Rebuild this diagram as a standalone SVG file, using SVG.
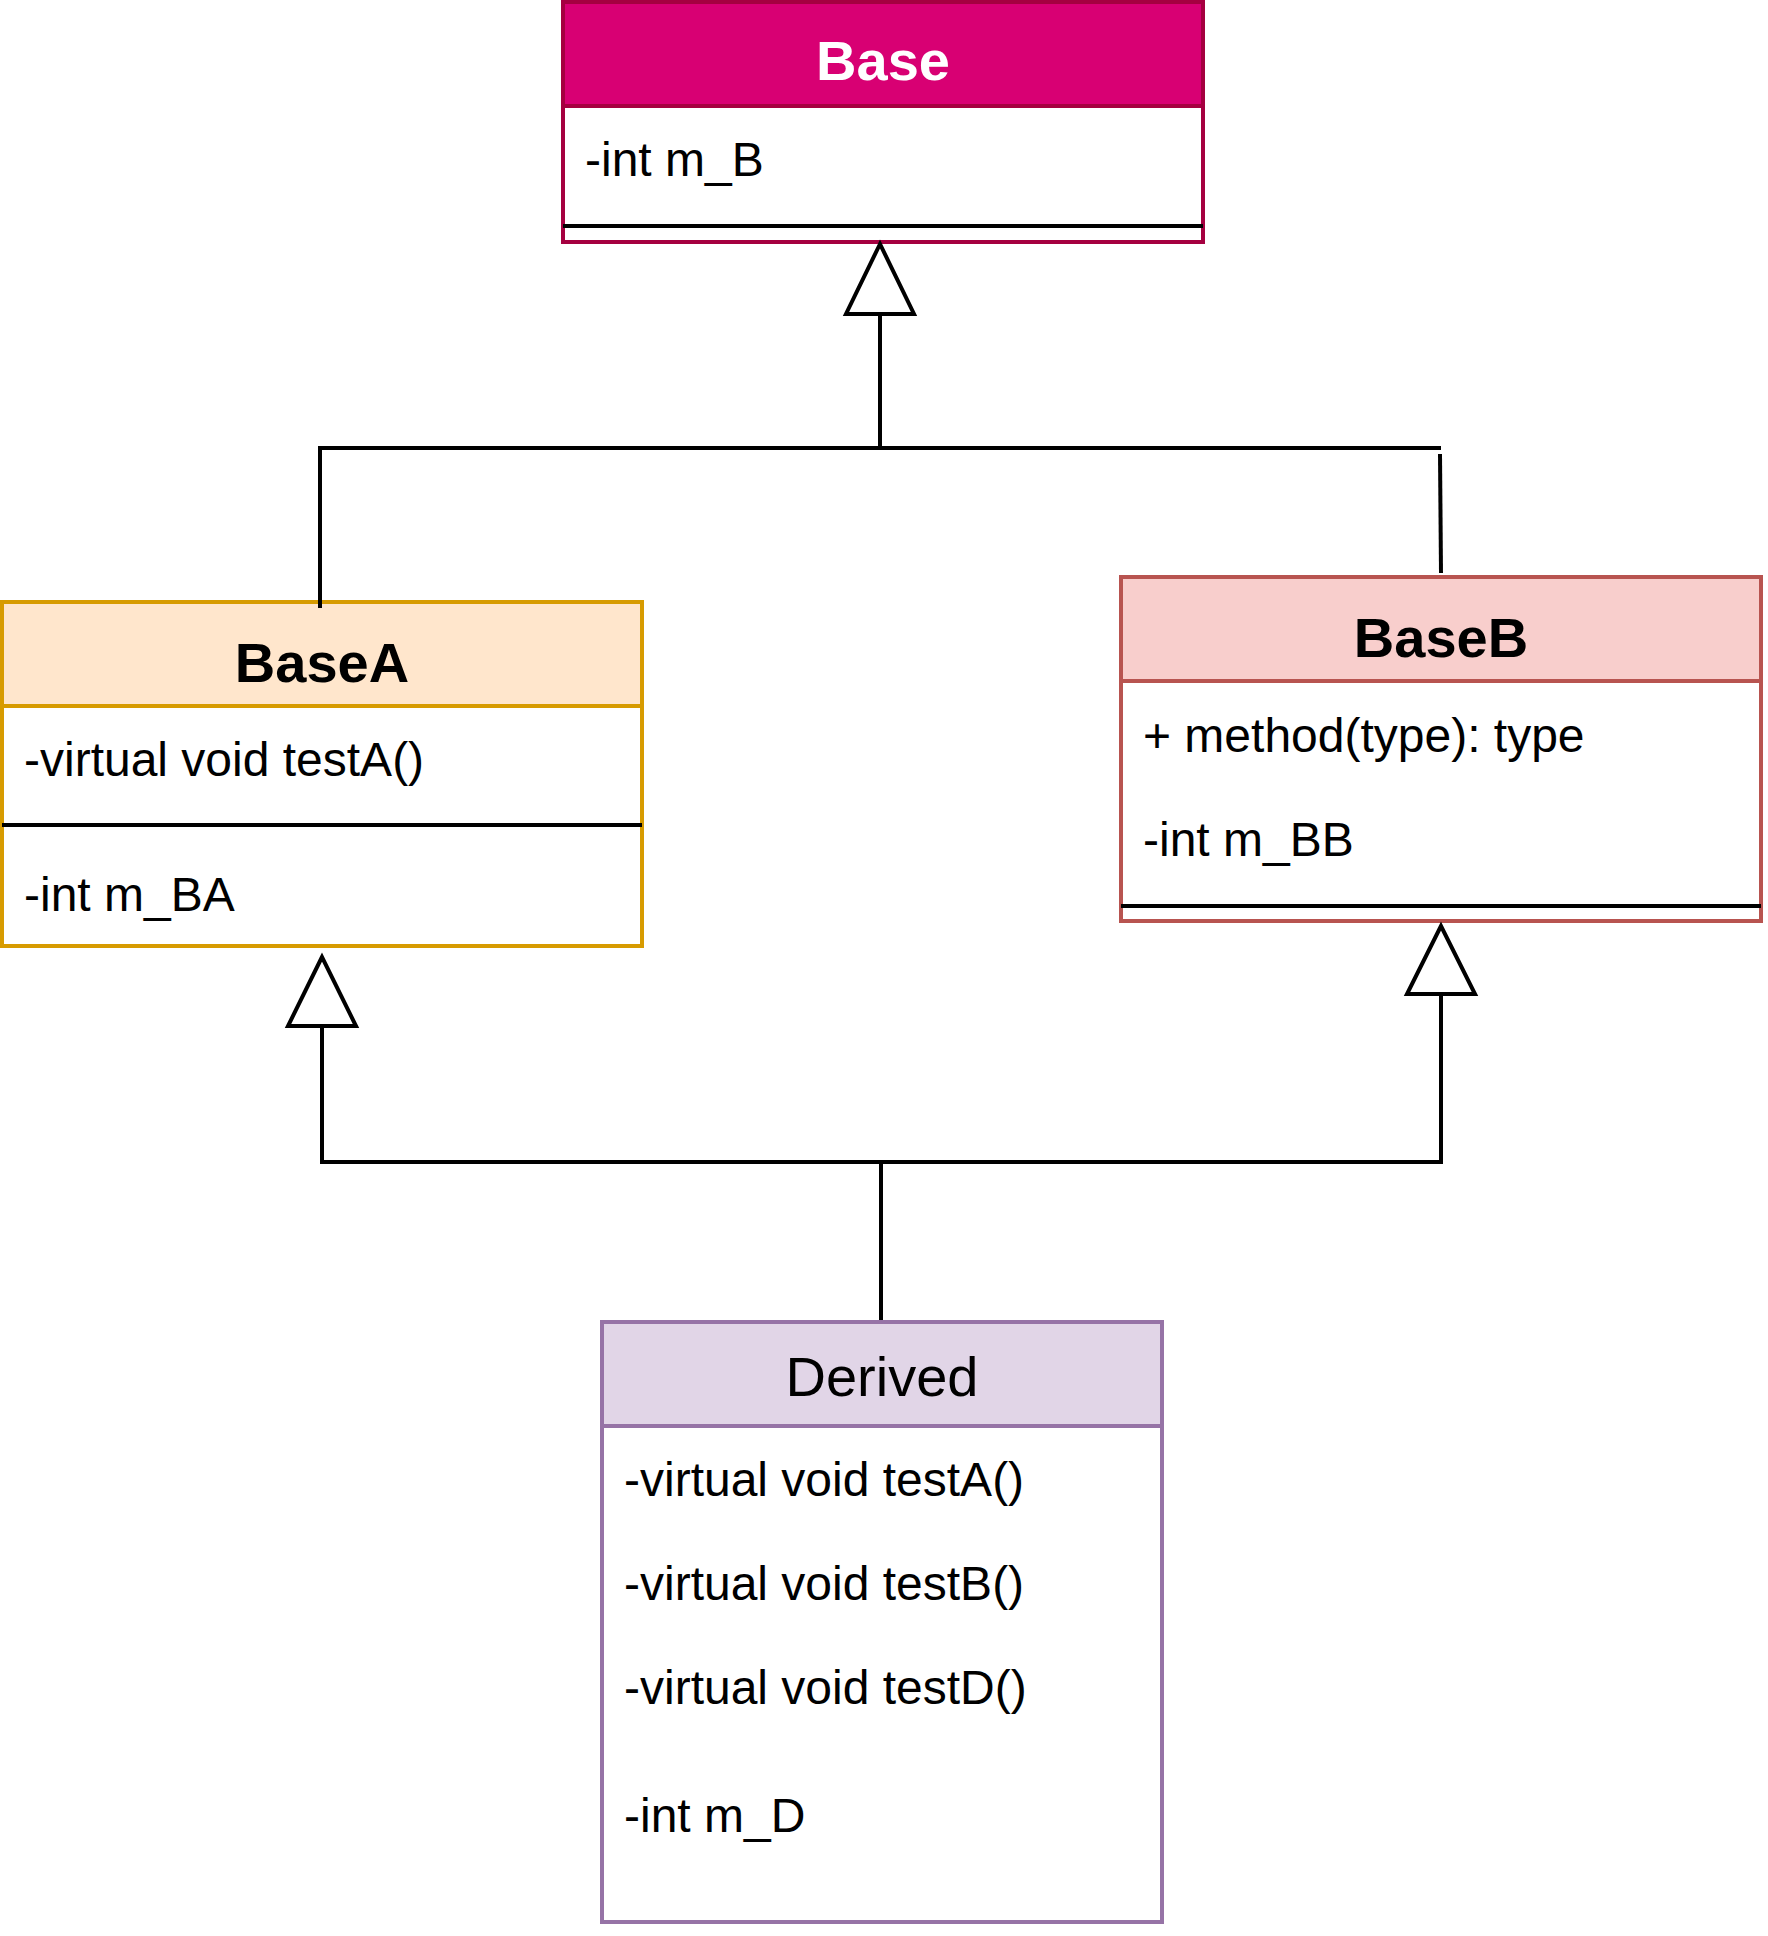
<svg xmlns="http://www.w3.org/2000/svg" width="1768" height="1936" viewBox="0 0 1768 1936">
<style>
text{font-family:"Liberation Sans",Arial,Helvetica,sans-serif;}
.hd{font-size:56px;font-weight:bold;text-anchor:middle;}
.hdn{font-size:56px;text-anchor:middle;}
.mb{font-size:48px;fill:#000;}
.sep{stroke:#000;stroke-width:4;}
.conn{stroke:#000;stroke-width:4;fill:none;}
.tri{fill:#fff;stroke:#000;stroke-width:4;stroke-linejoin:miter;}
</style>
<rect width="1768" height="1936" fill="#fff"/>
<g id="Base">
  <rect x="563" y="2" width="640" height="240" fill="#fff" stroke="#A50040" stroke-width="4"/>
  <rect x="563" y="2" width="640" height="104" fill="#d80073" stroke="#A50040" stroke-width="4"/>
  <text class="hd" x="883" y="80" fill="#fff">Base</text>
  <text class="mb" x="585" y="176">-int m_B</text>
  <line class="sep" x1="563" y1="226" x2="1203" y2="226"/>
</g>
<g id="BaseA">
  <rect x="2" y="602" width="640" height="344" fill="#fff" stroke="#d79b00" stroke-width="4"/>
  <rect x="2" y="602" width="640" height="104" fill="#ffe6cc" stroke="#d79b00" stroke-width="4"/>
  <text class="hd" x="322" y="682" fill="#000">BaseA</text>
  <text class="mb" x="24" y="776">-virtual void testA()</text>
  <line class="sep" x1="2" y1="825" x2="642" y2="825"/>
  <text class="mb" x="24" y="911">-int m_BA</text>
</g>
<g id="BaseB">
  <rect x="1121" y="577" width="640" height="344" fill="#fff" stroke="#b85450" stroke-width="4"/>
  <rect x="1121" y="577" width="640" height="104" fill="#f8cecc" stroke="#b85450" stroke-width="4"/>
  <text class="hd" x="1441" y="657" fill="#000">BaseB</text>
  <text class="mb" x="1143" y="752">+ method(type): type</text>
  <text class="mb" x="1143" y="856">-int m_BB</text>
  <line class="sep" x1="1121" y1="906" x2="1761" y2="906"/>
</g>
<g id="Derived">
  <rect x="602" y="1322" width="560" height="600" fill="#fff" stroke="#9673a6" stroke-width="4"/>
  <rect x="602" y="1322" width="560" height="104" fill="#e1d5e7" stroke="#9673a6" stroke-width="4"/>
  <text class="hdn" x="882" y="1396" fill="#000">Derived</text>
  <text class="mb" x="624" y="1496">-virtual void testA()</text>
  <text class="mb" x="624" y="1600">-virtual void testB()</text>
  <text class="mb" x="624" y="1704">-virtual void testD()</text>
  <text class="mb" x="624" y="1832">-int m_D</text>
</g>
<g id="connectors">
  <polyline class="conn" points="880,314 880,448"/>
  <polyline class="conn" points="320,608 320,448 1441,448"/>
  <line class="conn" x1="1440" y1="454" x2="1441" y2="573"/>
  <polygon class="tri" points="880,244 846,314 914,314"/>
  <polyline class="conn" points="322,1026 322,1162 1441,1162 1441,994"/>
  <line class="conn" x1="881" y1="1162" x2="881" y2="1320"/>
  <polygon class="tri" points="322,957 288,1026 356,1026"/>
  <polygon class="tri" points="1441,926 1407,994 1475,994"/>
</g>
</svg>
